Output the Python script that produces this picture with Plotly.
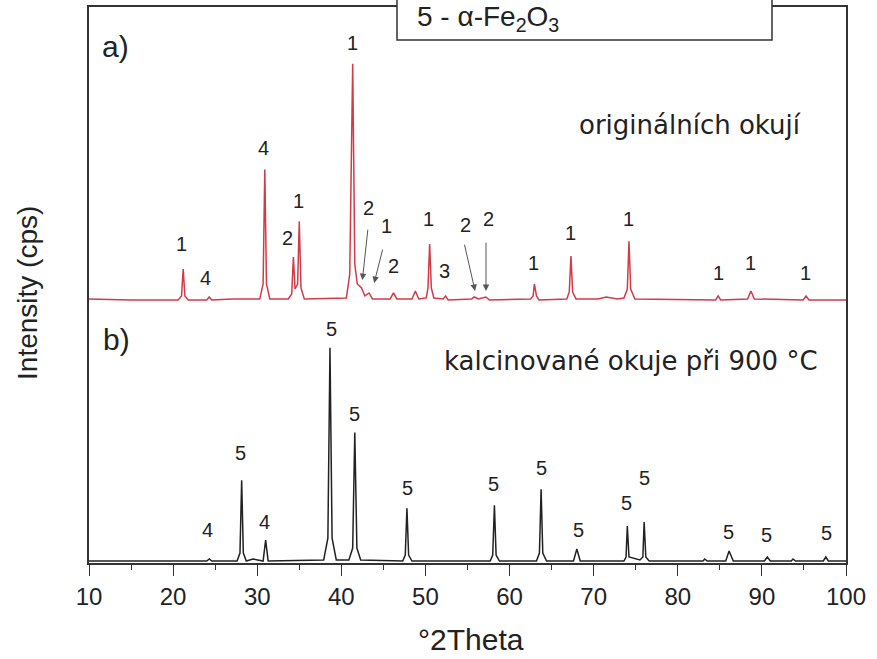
import plotly.graph_objects as go

# ---------------- data ----------------
# a) original scale (red), offset intensity units
red_x = [10.0, 15.0, 20.6, 21.0, 21.2, 21.4, 21.8, 24.0, 24.3, 24.6, 27.0,
         30.3, 30.7, 30.9, 31.1, 31.5, 33.7, 34.1, 34.3, 34.5, 34.8, 35.0, 35.2, 35.6,
         40.6, 41.0, 41.35, 41.6, 41.9, 42.4, 42.8, 43.3, 43.7, 45.8, 46.2, 46.6,
         48.4, 48.8, 49.2, 50.1, 50.3, 50.5, 50.7, 51.0, 52.1, 52.4, 52.7,
         55.5, 55.8, 56.3, 57.2, 57.6, 62.5, 62.8, 62.95, 63.2, 63.5,
         66.8, 67.1, 67.3, 67.5, 67.9, 70.5, 71.5, 72.8, 73.6, 74.0, 74.2, 74.4, 74.9,
         84.5, 84.8, 85.1, 88.3, 88.7, 89.1, 94.9, 95.25, 95.6, 100.0]
red_y = [265, 264, 264, 268, 295, 268, 264, 264, 267, 264, 265,
         265, 280, 395, 280, 265, 265, 270, 307, 275, 280, 343, 276, 265,
         266, 290, 501, 300, 280, 276, 268, 271, 265, 265, 271, 265,
         265, 273, 265, 266, 276, 320, 276, 266, 265, 268, 264,
         265, 267, 265, 267, 264, 265, 268, 280, 268, 264,
         265, 272, 308, 272, 265, 265, 267, 265, 266, 275, 323, 275, 265,
         264, 268, 264, 265, 273, 265, 264, 268, 264, 264]

# b) calcined at 900 °C (black)
blk_x = [10.0, 24.0, 24.3, 24.6, 27.6, 27.95, 28.15, 28.35, 28.7, 29.5, 30.7, 31.0, 31.3,
         37.9, 38.4, 38.65, 38.9, 39.4, 40.9, 41.35, 41.6, 41.85, 42.3,
         47.3, 47.6, 47.8, 48.0, 48.4, 57.7, 58.0, 58.2, 58.4, 58.8,
         63.2, 63.55, 63.75, 63.95, 64.4, 67.6, 68.0, 68.4,
         73.6, 73.85, 74.0, 74.2, 75.5, 75.85, 76.0, 76.2, 76.6,
         83.0, 83.2, 83.5, 85.7, 86.1, 86.6, 90.3, 90.65, 91.0,
         93.5, 93.7, 94.0, 97.3, 97.6, 97.9, 100.0]
blk_y = [2, 2, 4, 2, 2, 10, 83, 10, 2, 4, 2, 23, 2,
         3, 25, 216, 25, 3, 3, 15, 131, 15, 3,
         2, 8, 55, 8, 2, 2, 8, 58, 8, 2,
         2, 10, 74, 10, 2, 2, 14, 2,
         2, 6, 37, 6, 3, 6, 41, 6, 2,
         2, 4, 2, 2, 12, 2, 2, 6, 2,
         2, 4, 2, 2, 6, 2, 2]

# phase labels
lab_a_x = [21.05, 23.8, 30.8, 33.55, 34.85, 41.35, 43.2, 45.4, 46.25, 50.35, 52.3,
           54.8, 57.45, 62.9, 67.3, 74.15, 84.8, 88.65, 95.2]
lab_a_y = [320, 286, 416, 326, 363, 522, 356, 338, 298, 345, 293,
           339, 345, 301, 331, 345, 291, 301, 291]
lab_a_t = ["1", "4", "4", "2", "1", "1", "2", "1", "2", "1", "3",
           "2", "2", "1", "1", "1", "1", "1", "1"]

lab_b_x = [24.1, 28.05, 30.9, 38.8, 41.6, 47.9, 58.05, 63.8, 68.2, 73.95, 76.1, 86.0, 90.55, 97.7]
lab_b_y = [33, 110, 41, 235, 150, 75, 79, 95, 33, 60, 85, 31, 28, 30]
lab_b_t = ["4", "5", "4", "5", "5", "5", "5", "5", "5", "5", "5", "5", "5", "5"]

# arrows: tail (x, y) -> head (x, y)
arr_tail_x = [43.17, 44.95, 54.6, 57.2]
arr_tail_y = [336, 316, 321, 323]
arr_head_x = [42.5, 43.9, 55.9, 57.2]
arr_head_y = [284, 281, 273, 273]

x_ticks = [10, 20, 30, 40, 50, 60, 70, 80, 90, 100]

# ---------------- figure ----------------
fig = go.Figure()
fig.add_trace(go.Scatter(x=red_x, y=red_y, mode="lines",
                         line=dict(color="#d23a48", width=1.5), hoverinfo="skip"))
fig.add_trace(go.Scatter(x=blk_x, y=blk_y, mode="lines",
                         line=dict(color="#222222", width=1.5), hoverinfo="skip"))

ARIAL = "Arial, Liberation Sans"
ann = []
lab_font = dict(family=ARIAL, size=20, color="#222")
for x, y, t in zip(lab_a_x + lab_b_x, lab_a_y + lab_b_y, lab_a_t + lab_b_t):
    ann.append(dict(x=x, y=y, text=t, showarrow=False, font=lab_font,
                    xanchor="center", yanchor="middle"))
for tx, ty, hx, hy in zip(arr_tail_x, arr_tail_y, arr_head_x, arr_head_y):
    ann.append(dict(x=hx, y=hy, ax=tx, ay=ty, axref="x", ayref="y", text="",
                    showarrow=True, arrowhead=2, arrowsize=1.3, arrowwidth=1,
                    arrowcolor="#555"))

txt_font = dict(family="DejaVu Sans", size=26, color="#222")
ann += [
    dict(x=(577 - 89) / 757, y=(563 - 123) / 558, xref="paper", yref="paper",
         text="originálních okují", showarrow=False, xanchor="left", yanchor="middle",
         font=txt_font),
    dict(x=(442 - 89) / 757, y=(563 - 360) / 558, xref="paper", yref="paper",
         text="kalcinované okuje při 900 °C", showarrow=False, xanchor="left",
         yanchor="middle", font=txt_font),
    dict(x=(100 - 89) / 757, y=(563 - 45) / 558, xref="paper", yref="paper",
         text="a)", showarrow=False, xanchor="left", yanchor="middle",
         font=dict(family=ARIAL, size=30, color="#222")),
    dict(x=(101 - 89) / 757, y=(563 - 339) / 558, xref="paper", yref="paper",
         text="b)", showarrow=False, xanchor="left", yanchor="middle",
         font=dict(family=ARIAL, size=30, color="#222")),
    dict(x=(28 - 89) / 757, y=(563 - 292) / 558, xref="paper", yref="paper",
         text="Intensity (cps)", showarrow=False, textangle=-90,
         xanchor="center", yanchor="middle",
         font=dict(family=ARIAL, size=28, color="#222")),
    dict(x=(471 - 89) / 757, y=(563 - 640) / 558, xref="paper", yref="paper",
         text="°2Theta", showarrow=False, xanchor="center", yanchor="middle",
         font=dict(family=ARIAL, size=30, color="#222")),
    dict(x=(415 - 89) / 757, y=(563 - 17) / 558, xref="paper", yref="paper",
         text="5 - α-Fe<sub>2</sub>O<sub>3</sub>", showarrow=False,
         xanchor="left", yanchor="middle",
         font=dict(family=ARIAL, size=28, color="#222")),
]

fig.update_layout(
    width=877, height=659,
    margin=dict(l=89, r=31, t=5, b=96),
    paper_bgcolor="white", plot_bgcolor="white",
    showlegend=False,
    annotations=ann,
    shapes=[dict(type="rect", xref="paper", yref="paper",
                 x0=(397 - 89) / 757, x1=(772 - 89) / 757,
                 y0=(563 - 38) / 558, y1=(563 + 10) / 558,
                 fillcolor="white", line=dict(color="#333", width=1.5),
                 layer="above")],
    xaxis=dict(range=[10, 100], tickvals=x_ticks, ticks="outside", ticklen=11,
               tickwidth=1.3, tickcolor="#333",
               minor=dict(dtick=5, ticks="outside", ticklen=5, tickcolor="#333"),
               showline=True, linecolor="#333", linewidth=1.5, mirror=True,
               showgrid=False, zeroline=False,
               tickfont=dict(family=ARIAL, size=24, color="#222")),
    yaxis=dict(range=[0, 558], showticklabels=False, ticks="",
               showline=True, linecolor="#333", linewidth=1.5, mirror=True,
               showgrid=False, zeroline=False),
)

fig.write_html("out.html")
